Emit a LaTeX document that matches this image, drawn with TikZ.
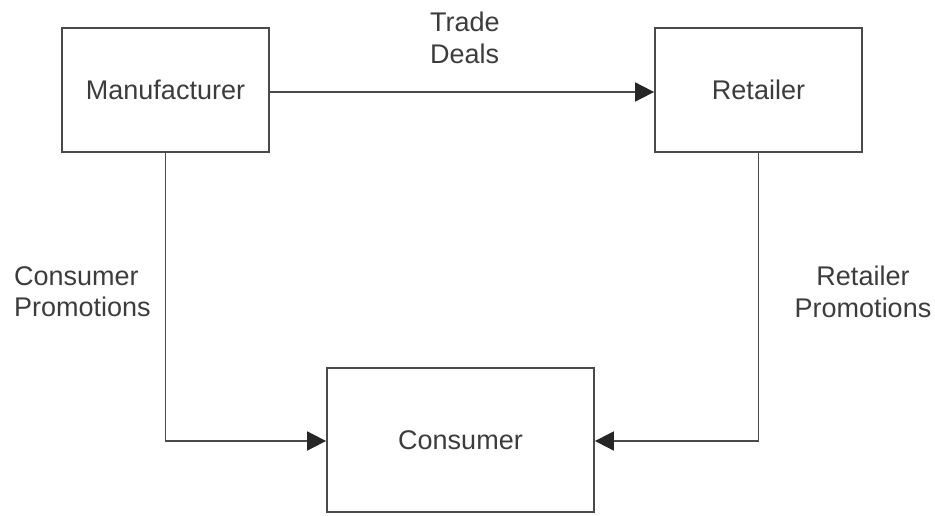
\documentclass[tikz,border=0pt]{standalone}
\usepackage{fontspec}
\setmainfont{Liberation Sans}
\usetikzlibrary{arrows.meta}
\definecolor{edge}{HTML}{4A4A4A}
\definecolor{ink}{HTML}{3C3C3C}
\begin{document}
\begin{tikzpicture}[x=1pt,y=-1pt,
  box/.style={draw=edge, line width=1.8pt, rectangle, inner sep=0pt,
    text=ink, font=\fontsize{27}{31}\selectfont},
  flow/.style={draw=edge, line width=1.8pt,
    -{Triangle[length=19pt,width=19pt,color=black!85]}},
  lbl/.style={inner sep=0pt, text=ink, font=\fontsize{27}{31.5}\selectfont}]
\useasboundingbox (0,0) rectangle (935,516);

% the three parties
\node[box, minimum width=207pt, minimum height=124pt] (man) at (165.5,90) {Manufacturer};
\node[box, minimum width=207pt, minimum height=124pt] (ret) at (758.5,90) {Retailer};
\node[box, minimum width=267pt, minimum height=144pt] (con) at (460.5,440) {Consumer};

% promotion flows
\draw[flow] ([yshift=-2pt]man.east) -- ([yshift=-2pt]ret.west);
\draw[flow] (man.south) |- ([yshift=-1pt]con.west);
\draw[flow] (ret.south) |- ([yshift=-1pt]con.east);

% flow labels
\node[lbl, align=left, anchor=north west] (trade) at (430,12) {Trade\\Deals};
\node[lbl, align=left, anchor=north west] (cprom) at (14,266) {Consumer\\Promotions};
\node[lbl, align=center, anchor=north] (rprom) at (863,266) {Retailer\\Promotions};
\end{tikzpicture}
\end{document}
